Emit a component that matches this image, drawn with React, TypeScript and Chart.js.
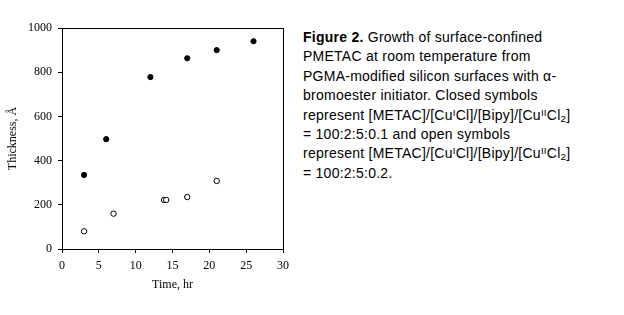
import React, { useEffect, useRef } from "react";
import { Chart, registerables } from "chart.js";

Chart.register(...registerables);

const closedTimes = [3, 6, 12, 17, 21, 26];
const closedThickness = [335, 497, 778, 863, 900, 940];
const openTimes = [3, 7, 13.85, 14.15, 17, 21];
const openThickness = [80, 160, 222, 222, 235, 308];
const xTitle = "Time, hr";
const yTitle = "Thickness, Å";

const serif = "'Liberation Serif', 'Times New Roman', serif";

const boxPlugin = {
  id: "box",
  afterDraw(chart: any) {
    const { ctx, chartArea } = chart;
    ctx.save();
    ctx.strokeStyle = "#000";
    ctx.lineWidth = 1;
    ctx.strokeRect(
      Math.round(chartArea.left) + 0.5,
      Math.round(chartArea.top) + 0.5,
      Math.round(chartArea.right - chartArea.left),
      Math.round(chartArea.bottom - chartArea.top)
    );
    ctx.restore();
  },
};

export default function App() {
  const ref = useRef<HTMLCanvasElement>(null);
  useEffect(() => {
    if (!ref.current) return;
    const chart = new Chart(ref.current, {
      type: "scatter",
      data: {
        datasets: [
          {
            label: "closed",
            data: closedTimes.map((t, i) => ({ x: t, y: closedThickness[i] })),
            backgroundColor: "#000",
            borderColor: "#000",
            pointRadius: 2.6,
            pointBorderWidth: 1,
            pointStyle: "circle",
          },
          {
            label: "open",
            data: openTimes.map((t, i) => ({ x: t, y: openThickness[i] })),
            backgroundColor: "#fff",
            borderColor: "#000",
            pointRadius: 2.7,
            pointBorderWidth: 1,
            pointStyle: "circle",
          },
        ],
      },
      options: {
        responsive: false,
        animation: false,
        layout: { padding: { top: 28, right: 17, left: 0, bottom: 0 } },
        plugins: { legend: { display: false }, tooltip: { enabled: false } },
        scales: {
          x: {
            type: "linear",
            min: 0,
            max: 30,
            ticks: {
              stepSize: 5,
              color: "#000",
              font: { family: serif, size: 12 },
              padding: 6,
              callback: (v: any) => String(v),
            },
            grid: { drawOnChartArea: false, tickLength: 4, color: "#000" },
            border: { color: "#000" },
            title: {
              display: true,
              text: xTitle,
              color: "#000",
              font: { family: serif, size: 12 },
              padding: { top: 0, bottom: 23 },
            },
            afterFit: (s: any) => {
              s.height = 66;
            },
          },
          y: {
            type: "linear",
            min: 0,
            max: 1000,
            ticks: {
              stepSize: 200,
              color: "#000",
              font: { family: serif, size: 12 },
              padding: 6,
              callback: (v: any) => String(v),
            },
            grid: { drawOnChartArea: false, tickLength: 4, color: "#000" },
            border: { color: "#000" },
            title: {
              display: true,
              text: yTitle,
              color: "#000",
              font: { family: serif, size: 12 },
              padding: { top: 6, bottom: 0 },
            },
            afterFit: (s: any) => {
              s.width = 62;
            },
          },
        },
      },
      plugins: [boxPlugin],
    } as any);
    return () => chart.destroy();
  }, []);

  const sup: React.CSSProperties = { fontSize: "0.7em", verticalAlign: "0.45em", lineHeight: 0 };
  const sub: React.CSSProperties = { fontSize: "0.7em", verticalAlign: "-0.2em", lineHeight: 0 };
  const ratio = (
    <>
      represent [METAC]/[Cu<span style={sup}>I</span>Cl]/[Bipy]/[Cu<span style={sup}>II</span>Cl
      <span style={sub}>2</span>]
    </>
  );

  return (
    <div
      style={{
        position: "absolute",
        left: 0,
        top: 0,
        width: 624,
        height: 315,
        background: "#fff",
        overflow: "hidden",
      }}
    >
      <canvas ref={ref} width={300} height={315} style={{ position: "absolute", left: 0, top: 0 }} />
      <div
        style={{
          position: "absolute",
          left: 303,
          top: 28,
          fontFamily: "'Liberation Sans', Arial, sans-serif",
          fontSize: 14,
          letterSpacing: "0.25px",
          lineHeight: "19.4px",
          color: "#000",
          whiteSpace: "nowrap",
        }}
      >
        <b style={{ fontWeight: 900 }}>Figure 2.</b> Growth of surface-confined
        <br />
        PMETAC at room temperature from
        <br />
        PGMA-modified silicon surfaces with α-
        <br />
        bromoester initiator. Closed symbols
        <br />
        {ratio}
        <br />= 100:2:5:0.1 and open symbols
        <br />
        {ratio}
        <br />= 100:2:5:0.2.
      </div>
    </div>
  );
}
